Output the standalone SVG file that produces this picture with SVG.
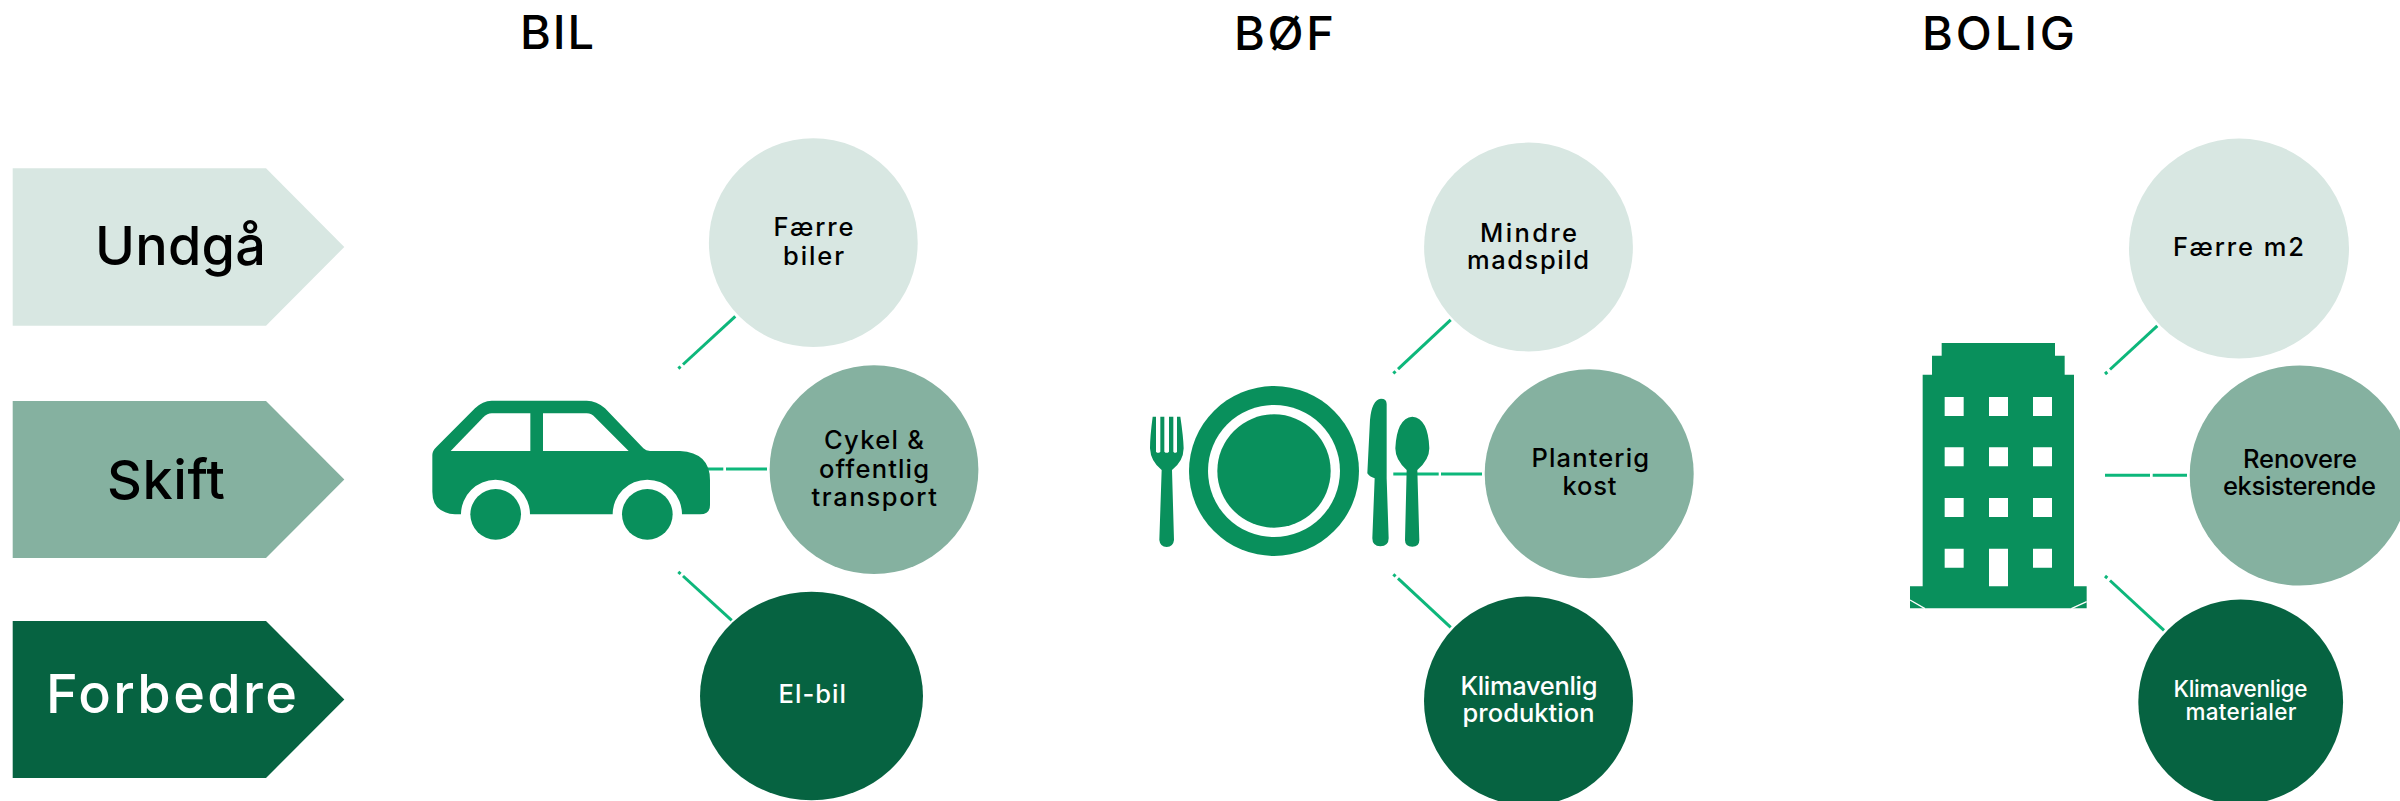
<svg xmlns="http://www.w3.org/2000/svg" width="2400" height="801" viewBox="0 0 2400 801">
<style>
text{font-family:"Inter","Noto Sans","Liberation Sans",sans-serif;font-weight:500;font-variant-ligatures:none}
.title{font-size:47px;fill:#000}
.lab{font-size:54px}
.t{font-size:25.5px}
.s{font-size:22.5px}
.k{fill:#000}
.w{fill:#fff}
.c1{fill:#d8e7e2}
.c2{fill:#85b1a0}
.c3{fill:#066341}
.ic{fill:#09905c}
.hole{fill:#fff}
#connectors line{stroke:#0db77b;stroke-width:3;fill:none}
</style>
<rect width="2400" height="801" fill="#fff"/>
<g id="titles">
<text class="title" x="520" y="49" textLength="74">BIL</text>
<text class="title" x="1234" y="50" textLength="100">BØF</text>
<text class="title" x="1922" y="50" textLength="153">BOLIG</text>
</g>
<g id="connectors">
<line x1="678.3" y1="368.5" x2="680.6" y2="366.6"/><line x1="683" y1="364.5" x2="735.3" y2="316.4"/>
<line x1="707.7" y1="469" x2="723.3" y2="469"/><line x1="726" y1="469" x2="767" y2="469"/>
<line x1="678.3" y1="571.8" x2="680.6" y2="573.8"/><line x1="683" y1="576" x2="731.7" y2="620.4"/>
<line x1="1393.3" y1="373.3" x2="1395.6" y2="371.3"/><line x1="1398" y1="369.2" x2="1450.7" y2="319.8"/>
<line x1="1393.3" y1="474" x2="1438.7" y2="474"/><line x1="1441" y1="474" x2="1482" y2="474"/>
<line x1="1393.3" y1="574.3" x2="1395.6" y2="576.3"/><line x1="1398" y1="578.4" x2="1450.7" y2="627.4"/>
<line x1="2105" y1="374" x2="2107.3" y2="372"/><line x1="2110" y1="369.5" x2="2157.3" y2="325.9"/>
<line x1="2105" y1="475.3" x2="2150" y2="475.3"/><line x1="2152.7" y1="475.3" x2="2187" y2="475.3"/>
<line x1="2105" y1="576" x2="2107.3" y2="578"/><line x1="2110" y1="580.5" x2="2164" y2="630.4"/>
</g>
<g id="arrow-undga"><polygon class="c1" points="12.7,168.3 266,168.3 344.3,247 266,325.7 12.7,325.7"/><text class="lab k" x="95" y="265.3" textLength="171">Undgå</text></g>
<g id="arrow-skift"><polygon class="c2" points="12.7,401 266,401 344.3,479.5 266,558 12.7,558"/><text class="lab k" x="107" y="499" textLength="118">Skift</text></g>
<g id="arrow-forbedre"><polygon class="c3" points="12.7,621 266,621 344.3,699.5 266,778 12.7,778"/><text class="lab w" x="46" y="713.3" textLength="251">Forbedre</text></g>
<g id="car" transform="translate(410 380) scale(.33333)">
<path class="ic" d="M67,225Q67,212 80,200L195,85Q218,62 245,62L530,62Q560,62 585,85L700,205Q708,213 720,213L810,213Q900,218 900,300L900,375Q900,403 870,403L816,403A103,103 0 0 0 608,403L360,403A103,103 0 0 0 153,403L135,403Q67,398 67,335Z"/>
<path class="hole" d="M122,213L220,112Q232,100 245,100L361,100L361,213Z"/>
<path class="hole" d="M399,100L530,100Q545,100 555,112L656,213L399,213Z"/>
<circle class="ic" cx="257" cy="403" r="76"/><circle class="ic" cx="712" cy="403" r="76"/>
</g>
<g id="plate" transform="translate(1100 360) scale(.33333)">
<circle class="ic" cx="522" cy="333" r="255"/><circle class="hole" cx="522" cy="333" r="198"/><circle class="ic" cx="522" cy="333" r="170"/>
<path class="ic" d="M158,170Q150,230 150,265Q152,305 185,330L178,540Q180,560 200,561Q220,560 222,540L216,330Q250,305 251,265Q250,230 241,170L231,170L231,275Q226,282 220,275L220,170L207,170L207,275Q200,282 193,275L193,170L181,170L181,275Q174,282 168,275L168,170Z"/>
<path class="ic" d="M843,116Q860,116 860,132L860,355L866,535Q866,558 841,559Q817,558 817,535L824,355Q808,350 802,340L810,180Q815,120 843,116Z"/>
<path class="ic" d="M937,170Q985,175 988,265Q988,300 952,330L958,540Q958,560 937,560Q915,560 915,540L920,330Q886,300 886,265Q890,175 937,170Z"/>
</g>
<g id="building" transform="translate(1880 310) scale(.33333)">
<path class="ic" d="M185,99H525V137H554V194H582V829H620V895H90V829H128V194H156V137H185Z"/>
<path class="hole" d="M194,261h57v57h-57zM327,261h57v57h-57zM459,261h57v57h-57zM194,412h57v57h-57zM327,412h57v57h-57zM459,412h57v57h-57zM194,564h57v57h-57zM327,564h57v57h-57zM459,564h57v57h-57zM194,716h57v57h-57zM459,716h57v57h-57zM327,716h57v113h-57z"/>
<path d="M90,870L135,896M620,875L574,896" stroke="#fff" stroke-width="4" fill="none"/>
</g>
<g id="n-faerre-biler"><circle class="c1" cx="813.3" cy="242.7" r="104.4"/><text class="t k" x="773.5" y="235.6" textLength="80">Færre</text><text class="t k" x="783" y="264.7" textLength="61">biler</text></g>
<g id="n-cykel"><circle class="c2" cx="874" cy="469.7" r="104.4"/><text class="t k" x="824" y="449.3" textLength="100">Cykel &amp;</text><text class="t k" x="819" y="478.4" textLength="110">offentlig</text><text class="t k" x="811.5" y="505.7" textLength="125.5">transport</text></g>
<g id="n-elbil"><ellipse class="c3" cx="811.5" cy="696" rx="111.5" ry="104.2"/><text class="t w" x="778.5" y="703.4" textLength="67.5">El-bil</text></g>
<g id="n-mindre"><circle class="c1" cx="1528.5" cy="247" r="104.4"/><text class="t k" x="1480" y="241.6" textLength="97">Mindre</text><text class="t k" x="1467" y="269" textLength="122">madspild</text></g>
<g id="n-planterig"><circle class="c2" cx="1589.2" cy="473.8" r="104.5"/><text class="t k" x="1531.5" y="466.7" textLength="117.5">Planterig</text><text class="t k" x="1562.5" y="495.3" textLength="54">kost</text></g>
<g id="n-klimavenlig"><circle class="c3" cx="1528.5" cy="701" r="104.5"/><text class="t w" x="1460.5" y="695" textLength="137">Klimavenlig</text><text class="t w" x="1462.5" y="721.8" textLength="132">produktion</text></g>
<g id="n-faerre-m2"><circle class="c1" cx="2239" cy="248.6" r="110"/><text class="t k" x="2173" y="256" textLength="131">Færre m2</text></g>
<g id="n-renovere"><circle class="c2" cx="2299.7" cy="475.5" r="110"/><text class="t k" x="2243" y="468.2" textLength="114">Renovere</text><text class="t k" x="2223" y="495" textLength="153">eksisterende</text></g>
<g id="n-klimavenlige"><circle class="c3" cx="2240.7" cy="702" r="102.4"/><text class="s w" x="2173.5" y="697.3" textLength="134">Klimavenlige</text><text class="s w" x="2185.5" y="720" textLength="111">materialer</text></g>
</svg>
